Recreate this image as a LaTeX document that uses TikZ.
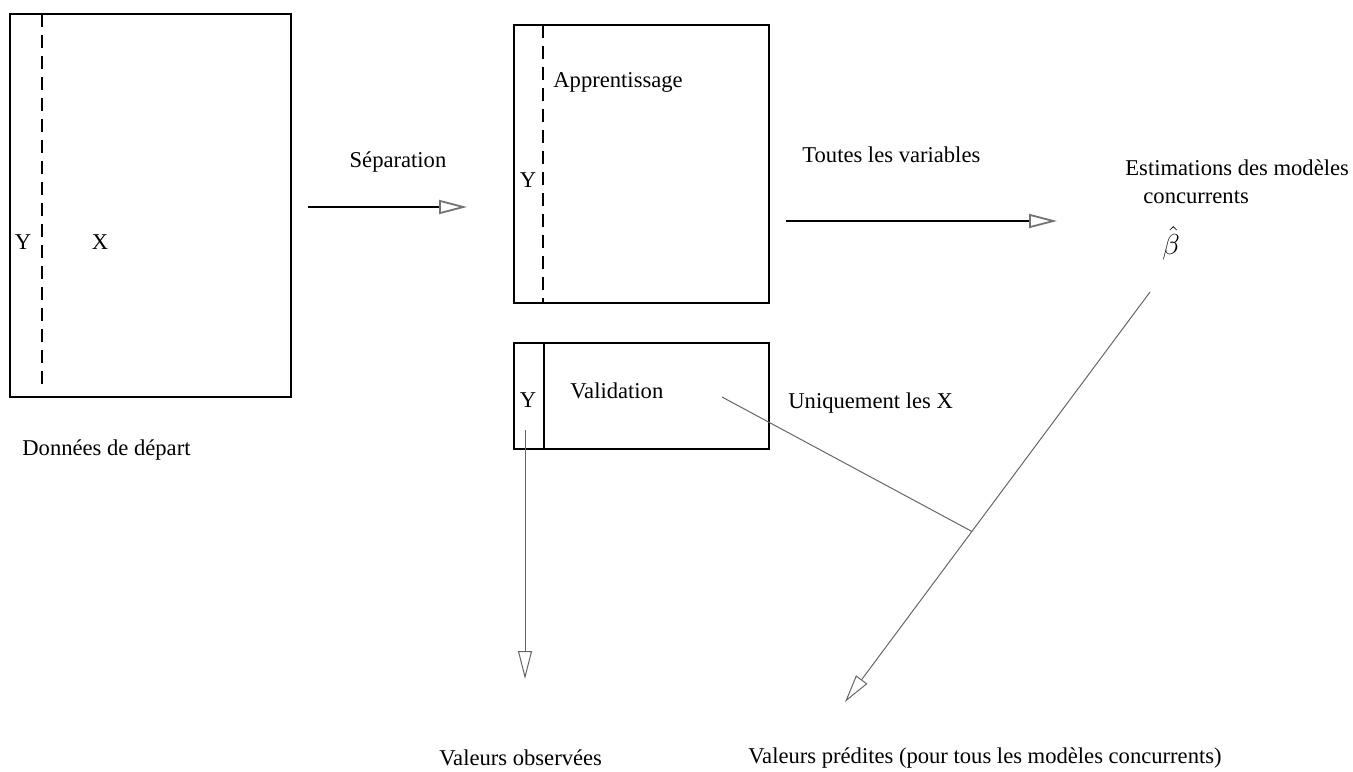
\documentclass[tikz,border=0pt]{standalone}
\usepackage{fontspec}
\setmainfont{Liberation Serif}
\usetikzlibrary{arrows.meta,fit,calc}
\tikzset{
  cadre/.style = {draw, line width=1.1pt, inner sep=0pt},
  tiret/.style = {line width=1pt, dash pattern=on 6.5pt off 4pt},
  fl/.style    = {-{Triangle[open, length=14pt, width=7pt, color=black!55]}, line width=0.9pt},
  flg/.style   = {-{Triangle[open, length=14pt, width=7pt]}, line width=0.5pt, draw=black!60},
  trait/.style = {line width=0.5pt, draw=black!60},
  lbl/.style   = {font=\fontsize{11.3}{13}\selectfont, inner sep=0pt}
}

\begin{document}
\begin{tikzpicture}[x=0.5pt, y=-0.5pt]
\useasboundingbox (0,0) rectangle (1353,771);
% ---- tableaux ----
\node[cadre, fit={(10,14) (291,397)}] (depart) {};
\node[cadre, fit={(514,25) (769,303)}] (appr) {};
\node[cadre, fit={(514,343) (769,449)}] (valid) {};
\draw[tiret] (42,14) -- (42,388);
\draw[tiret] (543,25) -- (543,303);
\draw[line width=1.1pt] (544,343) -- (544,449);

% ---- textes ----
\node[lbl] (yDep) at (23,242) {Y};
\node[lbl] (xDep) at (100,242) {X};
\node[lbl, anchor=west] (nomDep) at (22,450) {Données de départ};
\node[lbl] (sep) at (398,162) {Séparation};
\node[lbl, anchor=west] (nomAppr) at (553,82) {Apprentissage};
\node[lbl] (yAppr) at (528,180) {Y};
\node[lbl] (yVal) at (528,400) {Y};
\node[lbl, anchor=west] (nomVal) at (570,391) {Validation};
\node[lbl, anchor=west] (toutes) at (802,155) {Toutes les variables};
\node[lbl, anchor=west] (estim) at (1125,168) {Estimations des modèles};
\node[lbl, anchor=west] (concur) at (1143,197) {concurrents};
\node[font=\fontsize{15}{18}\selectfont, inner sep=0pt] (betah) at (1171,243) {$\hat{\beta}$};
\node[lbl, anchor=west] (uniq) at (788,403) {Uniquement les X};
\node[lbl, anchor=west] (obs) at (439,758) {Valeurs observées};
\node[lbl, anchor=west] (pred) at (748,758) {Valeurs prédites (pour tous les modèles concurrents)};

% ---- fleches ----
\coordinate (sepS) at (308,207);
\coordinate (sepE) at (467,207);
\coordinate (touS) at (786,221);
\coordinate (touE) at (1057,221);
\coordinate (obsS) at (525,430);
\coordinate (obsE) at (525,679);
\coordinate (estS) at (1150,292);
\coordinate (estE) at (845,702);
\coordinate (valS) at (722,397);
\coordinate (croix) at ($(estS)!0.584!(estE)$);
\draw[fl] (sepS) -- (sepE);
\draw[fl] (touS) -- (touE);
\draw[flg] (obsS) -- (obsE);
\draw[flg] (estS) -- (estE);
\draw[trait] (valS) -- (croix);
\end{tikzpicture}
\end{document}
